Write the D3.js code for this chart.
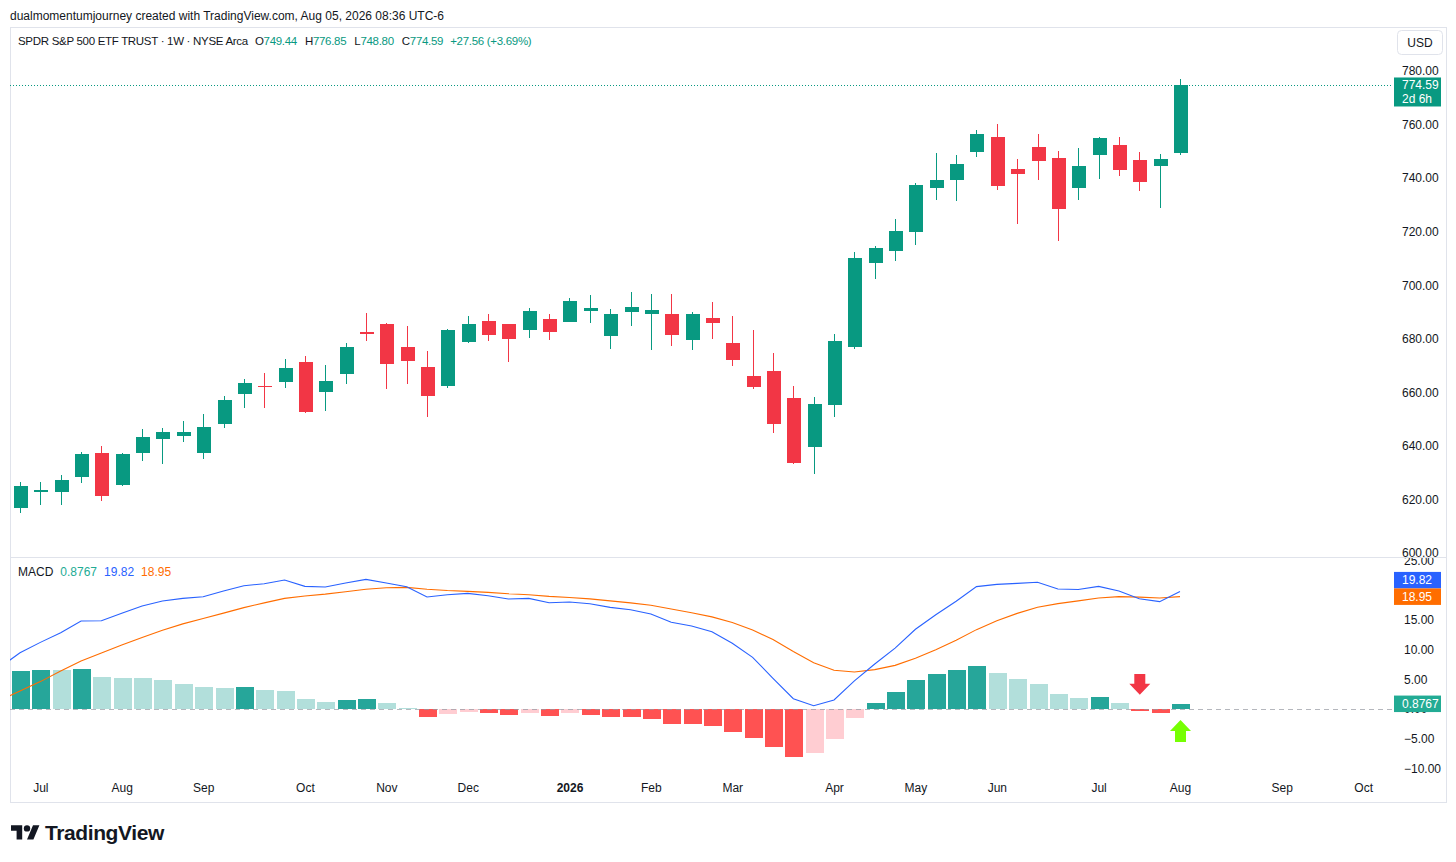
<!DOCTYPE html>
<html>
<head>
<meta charset="utf-8">
<script src="https://cdn.jsdelivr.net/npm/d3@7/dist/d3.min.js"></script>
<style>
  body { margin: 0; background: #fff; }
  svg text { font-family: "Liberation Sans", Arial, sans-serif; }
</style>
</head>
<body>
<svg id="chart" width="1456" height="862"></svg>
<script>
/* Datos: velas semanales SPY (lunes de cada semana) */
const firstWeek = "2025-06-30";
const lastWeek = "2026-08-03";

const opens = [616.9, 623.1, 622.7, 628.3, 637.4, 625.3, 637.2, 642.6, 643.7, 637.2,
  648.2, 659.3, 662.4, 664.0, 671.5, 660.2, 666.9, 682.4, 685.5, 676.9,
  669.6, 662.4, 678.7, 686.5, 685.5, 683.4, 687.3, 686.4, 690.5, 681.2,
  690.0, 689.4, 689.2, 679.7, 687.7, 678.4, 666.2, 668.1, 657.8, 639.7,
  655.4, 677.1, 708.4, 712.9, 719.8, 736.2, 739.4, 749.6, 755.4, 743.3,
  751.6, 747.5, 736.4, 748.5, 752.4, 746.9, 744.5, 749.44];
const highs = [626.4, 626.6, 629.3, 637.8, 640.0, 637.5, 646.2, 646.6, 649.4, 651.9,
  658.8, 664.9, 667.1, 672.6, 673.6, 670.1, 678.5, 689.6, 685.8, 684.8,
  675.4, 683.6, 688.5, 689.3, 685.7, 691.5, 689.3, 695.1, 696.2, 691.0,
  697.6, 696.8, 696.8, 689.9, 693.6, 688.4, 683.3, 674.6, 662.4, 658.2,
  681.7, 712.5, 714.7, 724.8, 738.3, 749.5, 748.7, 758.0, 760.2, 747.0,
  756.5, 750.2, 751.2, 755.4, 755.4, 749.8, 748.9, 776.85];
const lows = [615.1, 617.9, 617.9, 626.0, 619.4, 625.0, 634.5, 633.1, 641.4, 635.0,
  646.8, 654.3, 654.3, 661.8, 652.4, 653.2, 663.2, 679.3, 661.4, 663.2,
  650.7, 661.8, 678.5, 679.3, 671.2, 680.4, 679.7, 686.2, 686.0, 676.3,
  684.9, 675.7, 677.4, 675.7, 680.0, 669.7, 661.3, 644.7, 633.1, 629.4,
  650.9, 676.2, 702.2, 709.1, 715.0, 731.9, 731.6, 748.0, 735.6, 722.8,
  739.3, 716.5, 731.8, 739.7, 740.8, 735.2, 729.0, 748.80];
const closes = [625.0, 623.5, 627.3, 637.0, 621.3, 637.0, 643.2, 645.1, 645.1, 647.2,
  657.2, 663.4, 661.9, 669.0, 652.6, 664.2, 676.9, 681.9, 670.6, 671.7,
  658.8, 683.3, 685.5, 681.5, 680.0, 690.3, 682.7, 694.0, 691.4, 689.2,
  691.8, 690.6, 681.5, 689.2, 685.8, 672.1, 662.1, 648.1, 633.7, 655.7,
  679.2, 710.2, 713.9, 720.4, 737.4, 739.3, 745.4, 756.5, 737.2, 741.7,
  746.5, 728.6, 744.6, 755.0, 743.1, 738.6, 747.03, 774.59];

/* MACD (12, 26, 9) */
const macdLine = [9.50, 11.24, 12.87, 14.84, 14.90, 16.14, 17.37, 18.21, 18.66, 18.94,
  19.90, 20.80, 21.13, 21.75, 20.69, 20.57, 21.25, 21.87, 21.25, 20.63,
  18.89, 19.28, 19.50, 19.11, 18.55, 18.66, 17.93, 18.04, 17.76, 17.15,
  16.75, 16.02, 14.62, 14.00, 13.04, 11.08, 8.72, 5.18, 1.74, 0.56,
  1.52, 4.75, 7.59, 10.28, 13.45, 15.90, 18.19, 20.64, 21.02, 21.19,
  21.38, 20.24, 20.15, 20.68, 19.90, 18.60, 18.11, 19.82];
const signalLine = [3.04, 4.62, 6.40, 8.10, 9.45, 10.80, 12.08, 13.30, 14.36, 15.28,
  16.17, 17.10, 17.90, 18.66, 19.07, 19.38, 19.77, 20.21, 20.45, 20.51,
  20.19, 19.98, 19.85, 19.68, 19.43, 19.28, 19.00, 18.82, 18.57, 18.24,
  17.91, 17.50, 16.88, 16.25, 15.54, 14.58, 13.34, 11.72, 9.69, 7.82,
  6.54, 6.25, 6.64, 7.36, 8.56, 10.00, 11.61, 13.39, 14.89, 16.13,
  17.16, 17.77, 18.24, 18.72, 18.95, 18.88, 18.73, 18.95];
const histogram = [6.45, 6.65, 6.55, 6.75, 5.48, 5.25, 5.18, 4.90, 4.22, 3.70,
  3.55, 3.72, 3.20, 3.03, 1.62, 1.22, 1.55, 1.72, 0.95, 0.20,
  -1.30, -0.82, -0.50, -0.66, -1.00, -0.60, -1.12, -0.74, -0.98, -1.30,
  -1.33, -1.65, -2.48, -2.52, -2.84, -3.85, -4.97, -6.49, -8.12, -7.49,
  -5.13, -1.55, 0.95, 2.92, 4.89, 5.90, 6.58, 7.25, 6.13, 5.06,
  4.22, 2.47, 1.91, 1.96, 0.95, -0.28, -0.62, 0.8767];
// semana previa (2025-06-23), casi fuera del borde izquierdo
const macdBefore = 7.0;
const signalBefore = 1.45;

/* Ejes (20.00 queda tapado por las etiquetas de valor) */
const priceTicks = [600, 620, 640, 660, 680, 700, 720, 740, 760, 780];
const macdTicks = [-10, -5, 0, 5, 10, 15, 25];
const monthTicks = [
  ["2025-07-07", "Jul"], ["2025-08-04", "Aug"], ["2025-09-01", "Sep"], ["2025-10-06", "Oct"],
  ["2025-11-03", "Nov"], ["2025-12-01", "Dec"], ["2026-01-05", "2026"], ["2026-02-02", "Feb"],
  ["2026-03-02", "Mar"], ["2026-04-06", "Apr"], ["2026-05-04", "May"], ["2026-06-01", "Jun"],
  ["2026-07-06", "Jul"], ["2026-08-03", "Aug"], ["2026-09-07", "Sep"], ["2026-10-05", "Oct"]
];
// flechas dibujadas a mano en el panel MACD
const arrows = [
  { week: "2026-07-20", tail: 5.9, tip: 2.4, color: "#F23645" },
  { week: "2026-08-03", tail: -5.55, tip: -1.85, color: "#76FF03" }
];

const titleText = "dualmomentumjourney created with TradingView.com, Aug 05, 2026 08:36 UTC-6";
const symbolText = "SPDR S&P 500 ETF TRUST · 1W · NYSE Arca";
const countdownText = "2d 6h";

/* Colores */
const UP = "#089981", DOWN = "#F23645", INK = "#131722", GRID = "#E0E3EB";
const BLUE = "#2962FF", ORANGE = "#FF6D00";

function histColor(v, prev) {
  if (v >= 0) return v >= prev ? "#26A69A" : "#B2DFDB";
  return v < prev ? "#FF5252" : "#FFCDD2";
}

/* Layout */
const plotL = 10, plotR = 1392, frameR = 1446;
const paneTop = 28, paneSplit = 557, macdBottom = 776, frameBottom = 803;

const svg = d3.select("#chart");
const parse = d3.utcParse("%Y-%m-%d");
const weeks = d3.utcMonday.range(parse(firstWeek), d3.utcDay.offset(parse(lastWeek), 1));
const bars = weeks.map((d, i) => ({
  date: d, o: opens[i], h: highs[i], l: lows[i], c: closes[i],
  macd: macdLine[i], signal: signalLine[i], hist: histogram[i],
  prevHist: i ? histogram[i - 1] : histogram[i]
}));
const last = bars[bars.length - 1];
const prevClose = bars[bars.length - 2].c;

const x = d3.scaleUtc().domain([weeks[0], weeks[weeks.length - 1]]).range([20, 1180]);
const yP = d3.scaleLinear().domain([600, 780]).range([553, 71]);
const yM = d3.scaleLinear().domain([-10, 25]).range([768.3, 560.8]);
const px = d => Math.round(x(d));

svg.append("rect").attr("width", 1456).attr("height", 862).attr("fill", "#fff");

const defs = svg.append("defs");
defs.append("clipPath").attr("id", "clipTop").append("rect")
  .attr("x", plotL).attr("y", paneTop).attr("width", plotR - plotL).attr("height", paneSplit - paneTop);
defs.append("clipPath").attr("id", "clipMacd").append("rect")
  .attr("x", plotL).attr("y", paneSplit).attr("width", plotR - plotL).attr("height", macdBottom - paneSplit);
defs.append("clipPath").attr("id", "clipMacdAxis").append("rect")
  .attr("x", plotR).attr("y", paneSplit + 1).attr("width", frameR - plotR).attr("height", macdBottom - paneSplit);

/* Cabecera */
svg.append("text").attr("x", 10).attr("y", 19.5).attr("font-size", 12).attr("fill", INK).text(titleText);

/* Marco y separador */
svg.append("rect").attr("x", plotL + 0.5).attr("y", paneTop - 0.5)
  .attr("width", frameR - plotL).attr("height", frameBottom - paneTop)
  .attr("fill", "none").attr("stroke", GRID);
svg.append("line").attr("x1", plotL).attr("x2", frameR).attr("y1", paneSplit + 0.5).attr("y2", paneSplit + 0.5)
  .attr("stroke", GRID);

/* Leyenda de precio */
const fmt2 = d3.format(".2f");
const chg = last.c - prevClose;
const legend = svg.append("text").attr("x", 18).attr("y", 45).attr("font-size", 11.5).attr("letter-spacing", -0.3);
const legendParts = [
  [symbolText, INK, 0], ["O", INK, 7], [fmt2(last.o), UP, 0],
  ["H", INK, 8], [fmt2(last.h), UP, 0], ["L", INK, 8], [fmt2(last.l), UP, 0],
  ["C", INK, 8], [fmt2(last.c), UP, 0],
  [`${chg >= 0 ? "+" : ""}${fmt2(chg)} (${chg >= 0 ? "+" : ""}${fmt2(chg / prevClose * 100)}%)`, UP, 7]
];
legendParts.forEach(([t, c, dx]) => legend.append("tspan").attr("dx", dx).attr("fill", c).text(t));

/* Velas */
const gCandles = svg.append("g").attr("clip-path", "url(#clipTop)").attr("shape-rendering", "crispEdges");
gCandles.selectAll("line").data(bars).join("line")
  .attr("x1", d => px(d.date) + 0.5).attr("x2", d => px(d.date) + 0.5)
  .attr("y1", d => yP(d.h)).attr("y2", d => yP(d.l))
  .attr("stroke", d => d.c >= d.o ? UP : DOWN);
gCandles.selectAll("rect").data(bars).join("rect")
  .attr("x", d => px(d.date) - 6.5).attr("width", 14)
  .attr("y", d => yP(Math.max(d.o, d.c)))
  .attr("height", d => Math.max(1.5, yP(Math.min(d.o, d.c)) - yP(Math.max(d.o, d.c))))
  .attr("fill", d => d.c >= d.o ? UP : DOWN);

/* Línea punteada del último precio */
svg.append("line").attr("x1", plotL).attr("x2", plotR)
  .attr("y1", Math.round(yP(last.c)) + 0.5).attr("y2", Math.round(yP(last.c)) + 0.5)
  .attr("stroke", UP).attr("stroke-dasharray", "1,2");

/* Eje de precios */
function styleAxis(g) {
  g.select(".domain").remove();
  g.attr("font-family", null).attr("font-size", null);
  g.selectAll("text").attr("fill", INK).attr("font-size", 12);
}
svg.append("g").attr("transform", `translate(${1402},0)`)
  .call(d3.axisRight(yP).tickValues(priceTicks).tickFormat(fmt2).tickSize(0).tickPadding(0))
  .call(styleAxis);

// moneda
svg.append("rect").attr("x", 1397.5).attr("y", 30.5).attr("width", 45).attr("height", 24).attr("rx", 4)
  .attr("fill", "#fff").attr("stroke", GRID);
svg.append("text").attr("x", 1420).attr("y", 47).attr("text-anchor", "middle")
  .attr("font-size", 12).attr("fill", INK).text("USD");

// etiqueta de último precio
const yLast = yP(last.c);
svg.append("rect").attr("x", 1394).attr("y", yLast - 8).attr("width", 47).attr("height", 29).attr("fill", UP);
svg.append("text").attr("x", 1402).attr("y", yLast + 4).attr("font-size", 12).attr("fill", "#fff").text(fmt2(last.c));
svg.append("text").attr("x", 1402).attr("y", yLast + 17.5).attr("font-size", 12).attr("fill", "#fff").text(countdownText);

/* Panel MACD */
const gMacd = svg.append("g").attr("clip-path", "url(#clipMacd)");
gMacd.append("g").attr("shape-rendering", "crispEdges")
  .selectAll("rect").data(bars).join("rect")
  .attr("x", d => px(d.date) - 8.5).attr("width", 18)
  .attr("y", d => Math.min(yM(0), yM(d.hist)))
  .attr("height", d => Math.max(1, Math.abs(yM(d.hist) - yM(0))))
  .attr("fill", d => histColor(d.hist, d.prevHist));

gMacd.append("line").attr("x1", plotL).attr("x2", plotR)
  .attr("y1", Math.round(yM(0)) + 0.5).attr("y2", Math.round(yM(0)) + 0.5)
  .attr("stroke", "#9598A1").attr("stroke-opacity", 0.7).attr("stroke-dasharray", "5,4");

const prevWeek = d3.utcWeek.offset(weeks[0], -1);
const lineGen = d3.line().x(d => x(d[0])).y(d => yM(d[1]));
const signalPts = [[prevWeek, signalBefore], ...bars.map(d => [d.date, d.signal])];
const macdPts = [[prevWeek, macdBefore], ...bars.map(d => [d.date, d.macd])];
gMacd.append("path").attr("d", lineGen(signalPts)).attr("fill", "none").attr("stroke", ORANGE).attr("stroke-width", 1.1);
gMacd.append("path").attr("d", lineGen(macdPts)).attr("fill", "none").attr("stroke", BLUE).attr("stroke-width", 1.1);

// flechas
function blockArrow(cx, tailY, tipY) {
  const s = Math.sign(tipY - tailY);
  const neck = tipY - s * 11;
  return `M${cx - 5.5},${tailY}L${cx + 5.5},${tailY}L${cx + 5.5},${neck}L${cx + 10.5},${neck}` +
    `L${cx},${tipY}L${cx - 10.5},${neck}L${cx - 5.5},${neck}Z`;
}
gMacd.selectAll("path.arrow").data(arrows).join("path").attr("class", "arrow")
  .attr("d", a => blockArrow(x(parse(a.week)) + 0.5, yM(a.tail), yM(a.tip)))
  .attr("fill", a => a.color);

// leyenda MACD
const fmt4 = d3.format(".4f");
const mLegend = svg.append("text").attr("x", 18).attr("y", 576).attr("font-size", 12);
[["MACD", INK, 0], [fmt4(last.hist), "#22AB94", 7], [fmt2(last.macd), BLUE, 7], [fmt2(last.signal), ORANGE, 7]]
  .forEach(([t, c, dx]) => mLegend.append("tspan").attr("dx", dx).attr("fill", c).text(t));

// eje MACD
svg.append("g").attr("clip-path", "url(#clipMacdAxis)")
  .append("g").attr("transform", `translate(${1404},0)`)
  .call(d3.axisRight(yM).tickValues(macdTicks).tickFormat(fmt2).tickSize(0).tickPadding(0))
  .call(styleAxis);

// etiquetas de valores actuales
const boxH = 16.5;
let sigY = yM(last.signal), macdY = yM(last.macd);
if (Math.abs(sigY - macdY) < boxH) macdY = sigY - boxH;
const tags = [
  [macdY, BLUE, fmt2(last.macd)],
  [sigY, ORANGE, fmt2(last.signal)],
  [yM(last.hist), "#22AB94", fmt4(last.hist)]
];
tags.forEach(([cy, c, t]) => {
  svg.append("rect").attr("x", 1394).attr("y", cy - boxH / 2).attr("width", 47).attr("height", boxH).attr("fill", c);
  svg.append("text").attr("x", 1402).attr("y", cy + 4.3).attr("font-size", 12).attr("fill", "#fff").text(t);
});

/* Eje de tiempo */
const tickLabel = new Map(monthTicks.map(([d, l]) => [+parse(d), l]));
svg.append("g").attr("transform", `translate(0,${783})`)
  .call(d3.axisBottom(x).tickValues(monthTicks.map(([d]) => parse(d)))
    .tickFormat(d => tickLabel.get(+d)).tickSize(0).tickPadding(0))
  .call(styleAxis)
  .selectAll("text").attr("font-weight", d => tickLabel.get(+d) === "2026" ? "bold" : null);

/* Logo TradingView */
svg.append("path").attr("transform", "translate(11,822) scale(0.8)")
  .attr("d", "M14 22H7V11H0V4h14v18zM28 22h-8l7.5-18h8L28 22z").attr("fill", INK);
svg.append("circle").attr("cx", 11 + 20 * 0.8).attr("cy", 822 + 8 * 0.8).attr("r", 4 * 0.8).attr("fill", INK);
svg.append("text").attr("x", 45).attr("y", 840).attr("font-size", 21).attr("font-weight", 700)
  .attr("font-family", "Inter, Roboto, sans-serif").attr("letter-spacing", -0.4).attr("fill", INK).text("TradingView");
</script>
</body>
</html>
